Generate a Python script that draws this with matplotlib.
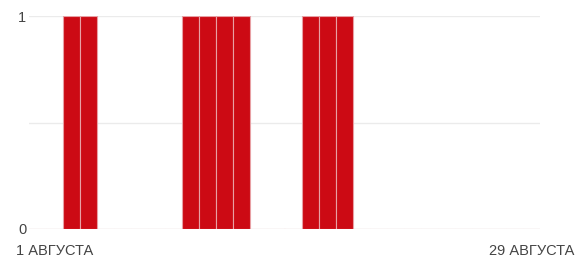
import matplotlib
matplotlib.use("Agg")
import matplotlib.pyplot as plt

plt.rcParams['font.family'] = ['Liberation Sans', 'DejaVu Sans']

# slot 0 = 31 July, slots 1..29 = 1..29 August
days = list(range(0, 30))
values = [0, 0, 1, 1, 0, 0, 0, 0, 0, 1, 1, 1, 1, 0, 0, 0, 1, 1, 1, 0,
          0, 0, 0, 0, 0, 0, 0, 0, 0, 0]
xtick_pos = [1, 29]
xtick_labels = ["1 АВГУСТА", "29 АВГУСТА"]
ytick_pos = [0, 1]
ytick_labels = ["0", "1"]

fig = plt.figure(figsize=(5.77, 2.63), dpi=100)
ax = fig.add_axes([29/577, 34/263, 511/577, 213/263])

ax.bar(days, values, width=1.0, color="#CC0A14", edgecolor="#E8A0A4", linewidth=0.8, zorder=3)

ax.set_xlim(-0.5, 29.5)
ax.set_ylim(0, 1)
for y in [0, 0.5, 1]:
    ax.axhline(y, color="#EBEBEB", linewidth=1, zorder=1)

for s in ax.spines.values():
    s.set_visible(False)

ax.set_yticks(ytick_pos)
ax.set_yticklabels(ytick_labels, fontsize=10.5, color="#444444")
ax.set_xticks(xtick_pos)
ax.set_xticklabels(xtick_labels, fontsize=10.5, color="#444444")
ax.tick_params(length=0)
ax.tick_params(axis="y", pad=2)
ax.tick_params(axis="x", pad=11)

fig.savefig("out.png", dpi=100)
